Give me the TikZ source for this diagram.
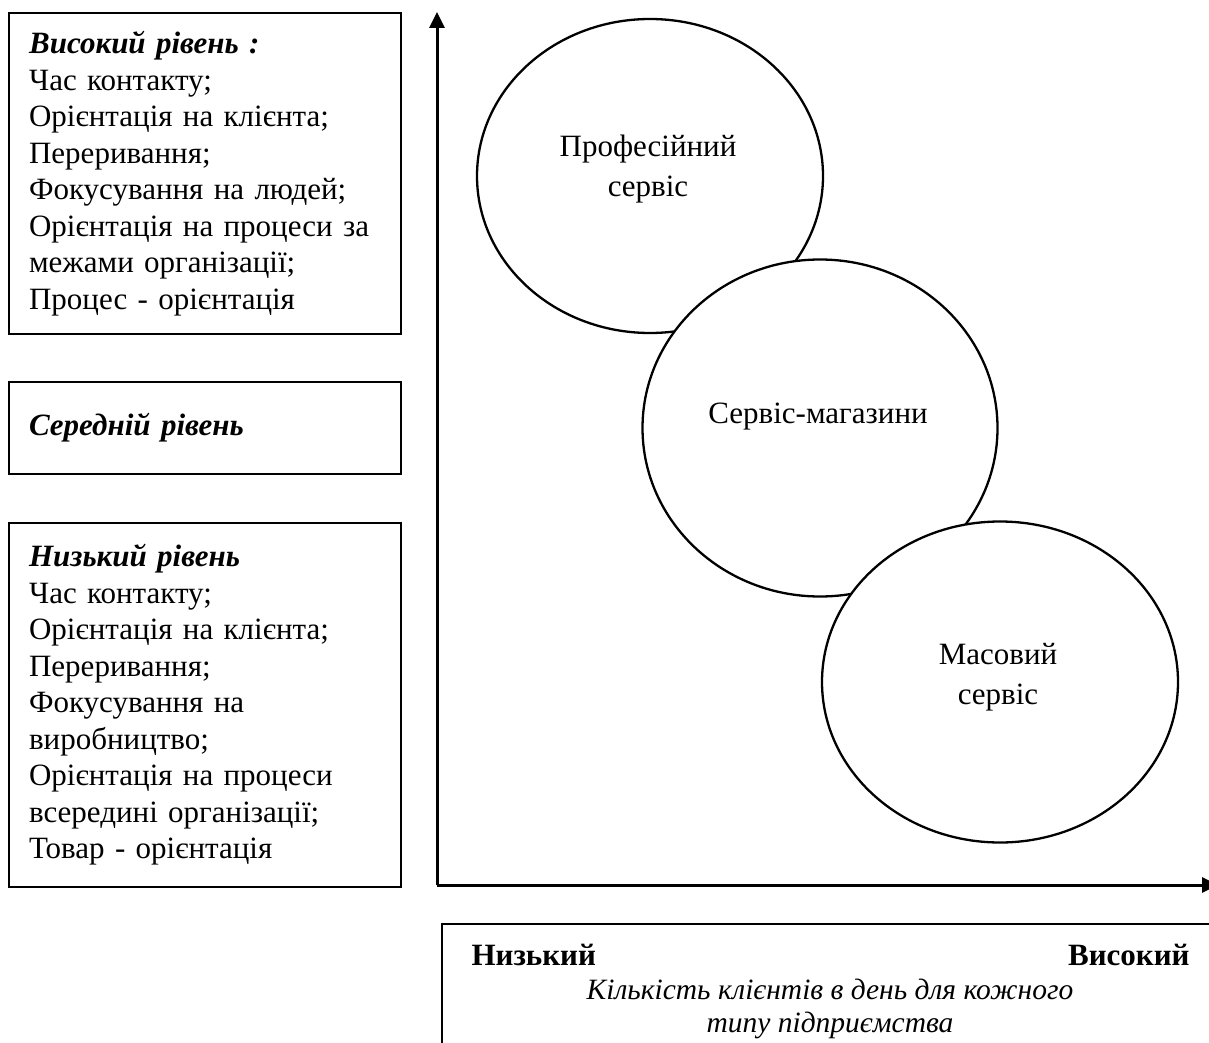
\documentclass[tikz,border=0pt]{standalone}
\usepackage{fontspec}
\setmainfont{Liberation Serif}
\usetikzlibrary{arrows.meta}
\usetikzlibrary{shapes.geometric}
\usetikzlibrary{positioning}

\tikzset{
    levelbox/.style={draw, line width=2.2pt, anchor=north west, text width=352pt, inner xsep=20pt, inner ysep=0pt, align=left, font=\fontsize{31}{36.5}\selectfont},
    servoval/.style={draw, ellipse, fill=white, line width=2.3pt, inner sep=0pt},
    ovaltext/.style={align=center, font=\fontsize{31}{40}\selectfont},
    axis/.style={line width=3pt, -{Triangle[length=16pt,width=15pt]}}
}

\begin{document}
\begin{tikzpicture}[x=1pt, y=-1pt]
        \clip (0,0) rectangle (1209,1043);
        \node[levelbox, minimum height=321pt] (high) at (8,12) {\textbf{\textit{Високий рівень :}}\\ Час контакту;\\ Орієнтація на клієнта;\\ Переривання;\\ Фокусування на людей;\\ Орієнтація на процеси за\\ межами організації;\\ Процес - орієнтація};
        \node[levelbox, minimum height=92pt] (mid) at (8,381) {\textbf{\textit{Середній рівень}}};
        \node[levelbox, minimum height=364pt] (low) at (8,522) {\textbf{\textit{Низький рівень}}\\ Час контакту;\\ Орієнтація на клієнта;\\ Переривання;\\ Фокусування на\\ виробництво;\\ Орієнтація на процеси\\ всередині організації;\\ Товар - орієнтація};

        \coordinate (origin) at (437,885);
        \coordinate (ytop) at (437,12);
        \coordinate (xend) at (1218,885);
        \draw[axis] (origin) -- (ytop);
        \draw[axis] (origin) -- (xend);

        \node[servoval, minimum width=346pt, minimum height=314pt] (prof) at (650,176) {};
        \node[servoval, minimum width=355pt, minimum height=337pt] (shop) at (820,428) {};
        \node[servoval, minimum width=356pt, minimum height=321pt] (mass) at (1000,682) {};
        \node[ovaltext] (proftext) at (648,169) {Професійний\\сервіс};
        \node[ovaltext] (shoptext) at (818,417) {Сервіс-магазини};
        \node[ovaltext] (masstext) at (998,677) {Масовий\\сервіс};

        \node[draw, line width=2.2pt, anchor=north west, minimum width=800pt, minimum height=140pt] (scale) at (441,923) {};
        \node[anchor=base west, font=\fontsize{31}{36.5}\selectfont\bfseries] (lowend) at (468,965) {Низький};
        \node[anchor=base east, font=\fontsize{31}{36.5}\selectfont\bfseries] (highend) at (1193,965) {Високий};
        \node[align=center, font=\fontsize{29.5}{33}\selectfont\itshape] (clients) at (830,1009) {Кількість клієнтів в день для кожного\\ типу підприємства};
\end{tikzpicture}
\end{document}
